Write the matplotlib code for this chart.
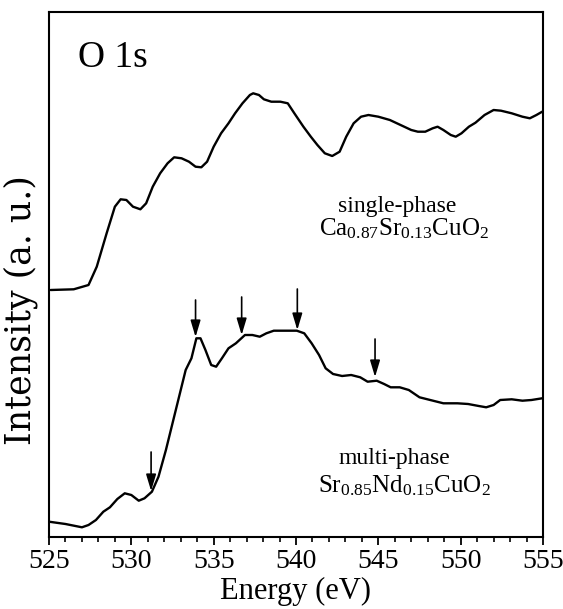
import matplotlib
matplotlib.use("Agg")
import matplotlib.pyplot as plt
from matplotlib.ticker import MultipleLocator

plt.rcParams['font.family'] = ['Liberation Serif', 'DejaVu Serif']
plt.rcParams['mathtext.default'] = 'regular'

# single-phase Ca0.87Sr0.13CuO2 (upper curve)
single_E = [525.1, 526.5, 527.4, 527.9, 528.5, 529.0, 529.35, 529.7, 530.1, 530.55,
            530.9, 531.3, 531.75, 532.2, 532.6, 533.05, 533.5, 533.9, 534.25, 534.6,
            535.0, 535.45, 535.9, 536.3, 536.75, 537.2, 537.4, 537.75, 538.05, 538.5,
            539.05, 539.5, 539.9, 540.45, 540.9, 541.3, 541.75, 542.2, 542.65, 543.05,
            543.5, 543.95, 544.4, 545.0, 545.7, 546.35, 547.0, 547.4, 547.85, 548.3,
            548.6, 548.95, 549.4, 549.7, 550.05, 550.5, 550.9, 551.45, 552.0, 552.45,
            553.1, 553.75, 554.2, 554.6, 554.95]
single_I = [247, 247.7, 252, 270.3, 303.7, 330.3, 337.7, 337, 330.3, 327.7,
            333.7, 350.3, 363.7, 373.7, 379.7, 378.7, 375.3, 370.3, 369.7, 375.3,
            390.3, 403.7, 413.7, 423.7, 433.7, 442, 443.7, 442, 437.7, 435.3,
            435.3, 433.7, 423.7, 410.3, 400.3, 392, 383.7, 381, 385.3, 400.3,
            413.7, 420.3, 422, 420.3, 417, 412, 407, 405.3, 405.3, 408.7,
            410.3, 407, 402, 400.3, 403.7, 410.3, 414.3, 422, 427, 426.3,
            423.7, 420.3, 418.7, 422, 425.3]

# multi-phase Sr0.85Nd0.15CuO2 (lower curve)
multi_E = [525.0, 526.0, 527.0, 527.4, 527.85, 528.3, 528.7, 529.15, 529.6, 530.0,
           530.45, 530.8, 531.25, 531.65, 532.1, 532.55, 533.0, 533.3, 533.65, 533.95,
           534.2, 534.5, 534.85, 535.15, 535.5, 535.9, 536.35, 536.9, 537.35, 537.8,
           538.2, 538.65, 539.3, 540.05, 540.5, 540.95, 541.4, 541.8, 542.25, 542.8,
           543.35, 543.9, 544.35, 544.9, 545.35, 545.75, 546.3, 546.85, 547.5, 548.15,
           548.95, 549.8, 550.45, 551.1, 551.55, 552.0, 552.4, 553.1, 553.75, 554.3,
           554.95]
multi_I = [15.3, 13, 9.7, 12, 17, 25.3, 29.7, 38, 43.7, 42,
           36.3, 38.7, 45.3, 60.3, 87, 117, 147, 167, 178.7, 198.7,
           198.7, 187, 172, 170.3, 178.7, 188.7, 193.7, 202, 202, 200.3,
           203.7, 206.3, 206.3, 206.3, 203.7, 193.7, 182, 168.7, 163, 161,
           162, 159.7, 155.3, 156.3, 153, 149.7, 149.7, 147, 139.7, 137,
           133.7, 133.7, 133, 131, 129.7, 132, 137, 137.7, 136.3, 137,
           138.7]

# arrows on the multi-phase spectrum: energy, start (top), tip
arrow_E = [531.2, 533.9, 536.7, 540.08, 544.8]
arrow_top = [85, 237, 240, 248, 198]
arrow_tip = [46, 200, 202, 207, 160]

x_ticks = [525, 530, 535, 540, 545, 550, 555]

fig = plt.figure(figsize=(5.63, 6.09), dpi=100)
ax = fig.add_axes([49/563, 1 - 537/609, 494/563, 525/609])

ax.plot(single_E, single_I, color='black', lw=1.7, solid_joinstyle='round',
        solid_capstyle='round')
ax.plot(multi_E, multi_I, color='black', lw=1.7, solid_joinstyle='round',
        solid_capstyle='round')

for e, t0, t1 in zip(arrow_E, arrow_top, arrow_tip):
    ax.annotate('', xy=(e, t1), xytext=(e, t0),
                arrowprops=dict(arrowstyle='-|>,head_length=0.5,head_width=0.15',
                                color='black', lw=1.2, shrinkA=0, shrinkB=0,
                                mutation_scale=20))

ax.set_xlim(525, 555)
ax.set_ylim(0, 525)
ax.set_xticks(x_ticks)
ax.set_xticklabels([str(v) for v in x_ticks])
ax.xaxis.set_minor_locator(MultipleLocator(1))
ax.tick_params(axis='x', which='major', direction='out', length=6, width=1.3,
               labelsize=20, pad=3)
ax.tick_params(axis='x', which='minor', direction='out', length=3.5, width=1.2)
ax.set_yticks([])
for s in ax.spines.values():
    s.set_linewidth(1.5)

ax.set_xlabel('Energy (eV)', fontsize=22)
ax.xaxis.set_label_coords(0.5, (537 - 577) / 525)
ax.set_ylabel('Intensity (a. u.)', fontsize=25, family=['DejaVu Serif'], va='center')
ax.yaxis.set_label_coords((21 - 49) / 494, 0.432)

ax.text(0.0587, 0.895, 'O 1s', transform=ax.transAxes, fontsize=27, va='baseline')

ax.text(546.16, 325, 'single-phase', ha='center', va='baseline', fontsize=17)
ax.text(546.55, 302, 'Ca$_{0.87}$Sr$_{0.13}$CuO$_2$', ha='center', va='baseline', fontsize=18)
ax.text(546.0, 73, 'multi-phase', ha='center', va='baseline', fontsize=17)
ax.text(546.6, 45, 'Sr$_{0.85}$Nd$_{0.15}$CuO$_2$', ha='center', va='baseline', fontsize=18)

fig.savefig('out.png', dpi=100)
